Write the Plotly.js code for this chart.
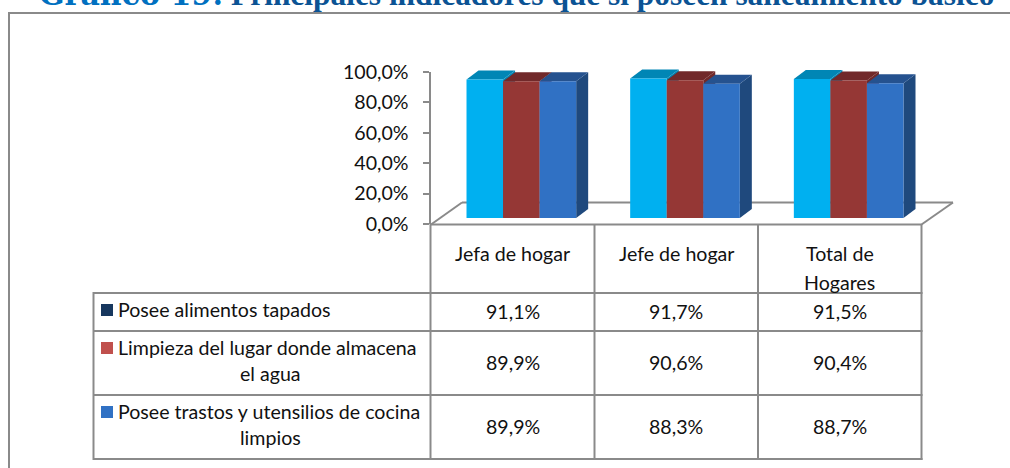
<!DOCTYPE html>
<html><head><meta charset="utf-8">
<script src="https://cdn.plot.ly/plotly-3.0.1.min.js"></script>
<style>html,body{margin:0;padding:0;background:#fff;overflow:hidden}</style></head>
<body><div id="chart" style="width:1010px;height:468px"></div>
<script>
const categories = ["Jefa de hogar", "Jefe de hogar", "Total de Hogares"];
const categoryLines = [["Jefa de hogar"], ["Jefe de hogar"], ["Total de", "Hogares"]];
const seriesNames = ["Posee alimentos tapados", "Limpieza del lugar donde almacena el agua", "Posee trastos y utensilios de cocina limpios"];
const seriesLines = [["Posee alimentos tapados"], ["Limpieza del lugar donde almacena", "el agua"], ["Posee trastos y utensilios de cocina", "limpios"]];
const alimentos = [91.1, 91.7, 91.5];
const limpieza = [89.9, 90.6, 90.4];
const trastos = [89.9, 88.3, 88.7];
const seriesValues = [alimentos, limpieza, trastos];
const axisTicks = [0, 20, 40, 60, 80, 100];
const axisLabels = ["0,0%", "20,0%", "40,0%", "60,0%", "80,0%", "100,0%"];
const frontColors = ["#00B0F0", "#953735", "#3071C4"];
const topColors = ["#0086B5", "#71292A", "#25528F"];
const sideColors = ["#0086B5", "#71292A", "#1F497D"];
const legendColors = ["#17375E", "#C0504D", "#3071C4"];

const W = 1010, H = 468;
const px = x => x / W, py = y => 1 - y / H;
const GREY = "#8A8A8A", FONT = "Lato, Carlito, sans-serif", TS = 19.6;
const colX = [430.5, 594.5, 758, 921.5];
const rowY = [293, 331, 395, 459];
const BASE = 218, TOPV = 66, SHIFT = 9, DX = 12, DY = 9, GAP = 0.33;
const unitY = (BASE - TOPV) / 100, unitX = (colX[3] - colX[0]) / 3;
const ddx = DX / unitX, ddy = DY / unitY, bw = (1 - GAP) / 3;

const traces = [];
// invisible trace to hold the value axis
traces.push({type:"scatter", mode:"none", x:[0], y:[0], xaxis:"x", yaxis:"y", hoverinfo:"skip", showlegend:false});
// depth faces (behind fronts)
seriesValues.forEach((vals, s) => {
  vals.forEach((v, i) => {
    const x0 = i - (1 - GAP) / 2 + s * bw, x1 = x0 + bw;
    traces.push({type:"scatter", mode:"lines", xaxis:"x2", yaxis:"y2", fill:"toself", hoverinfo:"skip", showlegend:false,
      line:{width:0}, fillcolor:sideColors[s],
      x:[x1, x1 + ddx, x1 + ddx, x1, x1], y:[0, ddy, v + ddy, v, 0]});
    traces.push({type:"scatter", mode:"lines", xaxis:"x2", yaxis:"y2", fill:"toself", hoverinfo:"skip", showlegend:false,
      line:{width:0}, fillcolor:topColors[s],
      x:[x0, x0 + ddx, x1 + ddx, x1, x0], y:[v, v + ddy, v + ddy, v, v]});
  });
});
// front faces
seriesValues.forEach((vals, s) => {
  traces.push({type:"bar", name:seriesNames[s], x:categories, y:vals, xaxis:"x3", yaxis:"y3",
    marker:{color:frontColors[s], line:{width:0}}, showlegend:false});
});

const shapes = [];
const ln = (x0, y0, x1, y1, w, c) => shapes.push({type:"line", xref:"paper", yref:"paper", layer:"below",
  x0:px(x0), y0:py(y0), x1:px(x1), y1:py(y1), line:{color:c || GREY, width:w || 2}});
// outer frame
ln(9, 12, 9, 468); ln(8, 13, 1010, 13);
// floor
ln(431, 224.5, 462, 202.5); ln(462, 202.5, 953, 202.5); ln(953, 202.5, 921.5, 224.5); ln(430, 224.5, 921.5, 224.5);
// table
colX.forEach(x => ln(x, 224, x, rowY[3] + 1));
rowY.forEach(y => ln(93.5, y, colX[3] + 1, y));
ln(93.5, rowY[0] - 1, 93.5, rowY[3] + 1);
legendColors.forEach((c, s) => shapes.push({type:"rect", xref:"paper", yref:"paper", layer:"below",
  x0:px(101), x1:px(113), y0:py(rowY[s] + 11), y1:py(rowY[s] + 23), fillcolor:c, line:{width:0}}));

const annotations = [];
const txt = (t, x, y, anchor) => annotations.push({text:t, xref:"paper", yref:"paper", x:px(x), y:py(y),
  xanchor:anchor || "center", yanchor:"middle", showarrow:false, font:{family:FONT, size:TS, color:"#111"}});
categoryLines.forEach((lines, i) => {
  const cx = (colX[i] + colX[i + 1]) / 2;
  lines.forEach((l, k) => txt(l, cx, 254 + k * 28));
});
seriesLines.forEach((lines, s) => {
  lines.forEach((l, k) => {
    if (k === 0) txt(l, 116, rowY[s] + 16, "left");
    else txt(l, 270, rowY[s] + 16 + k * 26);
  });
  seriesValues[s].forEach((v, i) => {
    const cx = (colX[i] + colX[i + 1]) / 2;
    txt(v.toFixed(1).replace(".", ",") + "%", cx, (rowY[s] + rowY[s + 1]) / 2 - 1);
  });
});
// title, cut by the top of the picture as in the reference
annotations.push({text:'<span style="font-family:\'DejaVu Serif\';font-size:30px;color:#0070C0"><b>Gráfico 19:</b></span><span style="color:#0B5394"><b> Principales indicadores que sí poseen saneamiento básico</b></span>',
  xref:"paper", yref:"paper", x:px(37), y:py(-6), xanchor:"left", yanchor:"middle", showarrow:false,
  font:{family:"Liberation Serif", size:31.4, color:"#0B5394"}});

const hidden = {visible:false, fixedrange:true};
const layout = {
  width:W, height:H, margin:{l:0, r:0, t:0, b:0}, paper_bgcolor:"#fff", plot_bgcolor:"rgba(0,0,0,0)",
  barmode:"group", bargap:GAP, bargroupgap:0, hovermode:false,
  xaxis:{...hidden, domain:[px(colX[0]), px(colX[3])], range:[0, 1]},
  yaxis:{domain:[py(224), py(72)], range:[0, 100], tickmode:"array", tickvals:axisTicks, ticktext:axisLabels,
    ticks:"outside", ticklen:6, tickwidth:2, tickcolor:GREY, showgrid:false, zeroline:false, showline:true, linecolor:GREY, linewidth:2,
    ticklabelstandoff:10, tickfont:{family:FONT, size:TS, color:"#111"}, anchor:"x", fixedrange:true},
  xaxis2:{...hidden, type:"linear", domain:[px(colX[0] + SHIFT), px(colX[3] + SHIFT)], range:[-0.5, 2.5], anchor:"y2"},
  yaxis2:{...hidden, domain:[py(BASE), py(TOPV)], range:[0, 100], anchor:"x2"},
  xaxis3:{...hidden, type:"category", range:[-0.5, 2.5], overlaying:"x2", anchor:"y3"},
  yaxis3:{...hidden, range:[0, 100], overlaying:"y2", anchor:"x3"},
  shapes, annotations
};
Plotly.newPlot("chart", traces, layout, {displayModeBar:false, staticPlot:true});
</script></body></html>
